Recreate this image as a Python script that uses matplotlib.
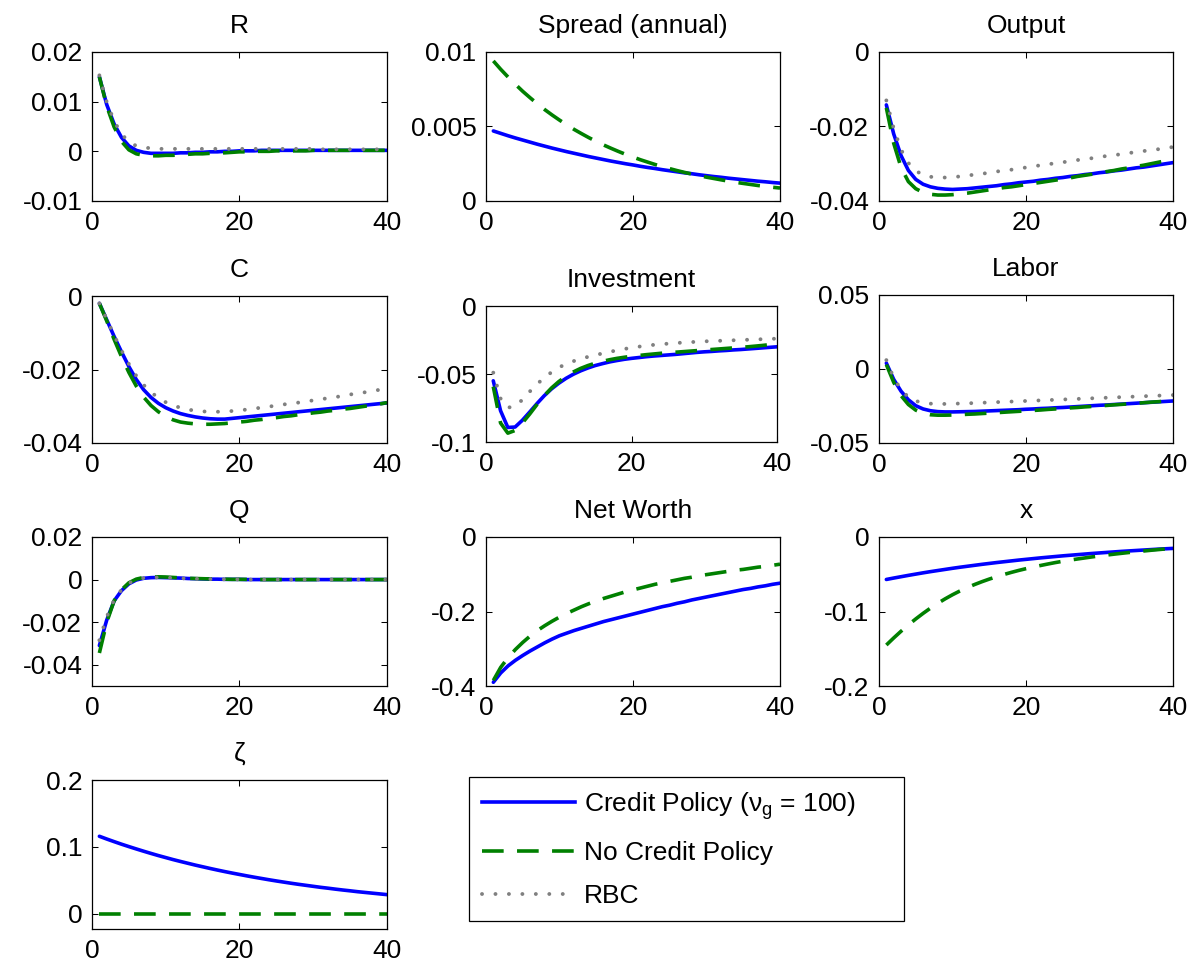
import matplotlib
matplotlib.use('Agg')
import matplotlib.pyplot as plt
from matplotlib.lines import Line2D

plt.rcParams['font.family'] = ['Liberation Sans', 'DejaVu Sans']
plt.rcParams['axes.unicode_minus'] = False
plt.rcParams['mathtext.fontset'] = 'custom'
plt.rcParams['mathtext.rm'] = 'Liberation Sans'
plt.rcParams['mathtext.it'] = 'Liberation Sans'

# ---------------- data ----------------
periods = list(range(1, 41))
series_labels = [r'Credit Policy ($\nu_g$ = 100)', 'No Credit Policy', 'RBC']

R_credit = [0.0150, 0.0094, 0.0055, 0.0028, 0.0011, 0.0002, -0.0002, -0.0004, -0.0004, -0.0004,
            -0.0004, -0.0003, -0.0003, -0.0002, -0.0002, -0.0001, -0.0001, 0.0000, 0.0000, 0.0001,
            0.0001, 0.0001, 0.0002, 0.0002, 0.0002, 0.0002, 0.0002, 0.0002, 0.0002, 0.0002,
            0.0002, 0.0002, 0.0002, 0.0002, 0.0002, 0.0002, 0.0002, 0.0002, 0.0002, 0.0002]
R_none = [0.0150, 0.0091, 0.0049, 0.0020, 0.0003, -0.0005, -0.0008, -0.0009, -0.0009, -0.0008,
          -0.0008, -0.0007, -0.0006, -0.0005, -0.0005, -0.0004, -0.0003, -0.0003, -0.0002, -0.0001,
          -0.0001, 0.0000, 0.0000, 0.0000, 0.0001, 0.0001, 0.0001, 0.0001, 0.0001, 0.0002,
          0.0002, 0.0002, 0.0002, 0.0002, 0.0002, 0.0002, 0.0002, 0.0002, 0.0002, 0.0002]
R_rbc = [0.0153, 0.0099, 0.0061, 0.0035, 0.0019, 0.0011, 0.0008, 0.0006, 0.0005, 0.0005,
         0.0005, 0.0005, 0.0005, 0.0005, 0.0005, 0.0005, 0.0005, 0.0005, 0.0005, 0.0005,
         0.0005, 0.0005, 0.0005, 0.0005, 0.0005, 0.0005, 0.0005, 0.0005, 0.0005, 0.0005,
         0.0004, 0.0004, 0.0004, 0.0004, 0.0004, 0.0004, 0.0004, 0.0004, 0.0004, 0.0004]

Spread_credit = [0.00470, 0.00454, 0.00438, 0.00423, 0.00409, 0.00395, 0.00381, 0.00368, 0.00355, 0.00343,
                 0.00331, 0.00320, 0.00309, 0.00298, 0.00288, 0.00278, 0.00268, 0.00259, 0.00250, 0.00242,
                 0.00233, 0.00225, 0.00218, 0.00210, 0.00203, 0.00196, 0.00189, 0.00183, 0.00176, 0.00170,
                 0.00164, 0.00159, 0.00153, 0.00148, 0.00143, 0.00138, 0.00133, 0.00129, 0.00124, 0.00120]
Spread_none = [0.00940, 0.00884, 0.00832, 0.00783, 0.00736, 0.00693, 0.00652, 0.00613, 0.00577, 0.00543,
               0.00511, 0.00480, 0.00452, 0.00425, 0.00400, 0.00376, 0.00354, 0.00333, 0.00313, 0.00295,
               0.00277, 0.00261, 0.00245, 0.00231, 0.00217, 0.00204, 0.00192, 0.00181, 0.00170, 0.00160,
               0.00151, 0.00142, 0.00133, 0.00125, 0.00118, 0.00111, 0.00104, 0.00098, 0.00092, 0.00087]

Output_credit = [-0.0142, -0.0220, -0.0278, -0.0318, -0.0342, -0.0355, -0.0362, -0.0366, -0.0368, -0.0369,
                 -0.0368, -0.0367, -0.0365, -0.0363, -0.0361, -0.0359, -0.0356, -0.0354, -0.0351, -0.0349,
                 -0.0347, -0.0344, -0.0342, -0.0339, -0.0337, -0.0334, -0.0332, -0.0329, -0.0327, -0.0324,
                 -0.0322, -0.0319, -0.0317, -0.0314, -0.0311, -0.0309, -0.0306, -0.0303, -0.0300, -0.0297]
Output_none = [-0.0150, -0.0245, -0.0310, -0.0348, -0.0367, -0.0377, -0.0382, -0.0384, -0.0384, -0.0383,
               -0.0381, -0.0379, -0.0376, -0.0373, -0.0370, -0.0367, -0.0364, -0.0362, -0.0359, -0.0356,
               -0.0353, -0.0350, -0.0347, -0.0344, -0.0341, -0.0338, -0.0334, -0.0331, -0.0328, -0.0325,
               -0.0321, -0.0318, -0.0314, -0.0311, -0.0307, -0.0304, -0.0300, -0.0296, -0.0292, -0.0288]
Output_rbc = [-0.0130, -0.0205, -0.0262, -0.0298, -0.0319, -0.0330, -0.0335, -0.0337, -0.0337, -0.0336,
              -0.0334, -0.0332, -0.0329, -0.0327, -0.0324, -0.0321, -0.0318, -0.0316, -0.0313, -0.0310,
              -0.0307, -0.0304, -0.0301, -0.0299, -0.0296, -0.0293, -0.0290, -0.0288, -0.0285, -0.0282,
              -0.0279, -0.0277, -0.0274, -0.0271, -0.0269, -0.0266, -0.0263, -0.0261, -0.0258, -0.0255]

C_credit = [-0.0020, -0.0065, -0.0110, -0.0152, -0.0192, -0.0227, -0.0255, -0.0276, -0.0292, -0.0304,
            -0.0313, -0.0320, -0.0325, -0.0329, -0.0332, -0.0334, -0.0335, -0.0335, -0.0333, -0.0331,
            -0.0329, -0.0327, -0.0325, -0.0323, -0.0321, -0.0319, -0.0317, -0.0315, -0.0313, -0.0311,
            -0.0309, -0.0307, -0.0305, -0.0303, -0.0301, -0.0299, -0.0297, -0.0295, -0.0293, -0.0291]
C_none = [-0.0020, -0.0068, -0.0118, -0.0165, -0.0208, -0.0245, -0.0275, -0.0298, -0.0315, -0.0328,
          -0.0337, -0.0343, -0.0346, -0.0348, -0.0349, -0.0349, -0.0348, -0.0347, -0.0345, -0.0343,
          -0.0341, -0.0338, -0.0336, -0.0333, -0.0331, -0.0328, -0.0326, -0.0323, -0.0321, -0.0318,
          -0.0316, -0.0313, -0.0311, -0.0308, -0.0306, -0.0303, -0.0300, -0.0297, -0.0294, -0.0290]
C_rbc = [-0.0020, -0.0063, -0.0107, -0.0148, -0.0185, -0.0217, -0.0242, -0.0262, -0.0277, -0.0289,
         -0.0298, -0.0304, -0.0309, -0.0312, -0.0314, -0.0315, -0.0315, -0.0314, -0.0313, -0.0311,
         -0.0309, -0.0306, -0.0304, -0.0301, -0.0298, -0.0295, -0.0293, -0.0290, -0.0287, -0.0284,
         -0.0281, -0.0278, -0.0275, -0.0272, -0.0268, -0.0265, -0.0262, -0.0259, -0.0255, -0.0252]

Inv_credit = [-0.0550, -0.0770, -0.0893, -0.0890, -0.0840, -0.0780, -0.0718, -0.0660, -0.0610, -0.0568,
              -0.0532, -0.0502, -0.0477, -0.0456, -0.0438, -0.0424, -0.0411, -0.0401, -0.0392, -0.0385,
              -0.0379, -0.0373, -0.0368, -0.0364, -0.0360, -0.0356, -0.0351, -0.0346, -0.0341, -0.0337,
              -0.0334, -0.0330, -0.0327, -0.0323, -0.0320, -0.0316, -0.0312, -0.0308, -0.0304, -0.0300]
Inv_none = [-0.0593, -0.0860, -0.0935, -0.0915, -0.0860, -0.0795, -0.0725, -0.0660, -0.0603, -0.0556,
            -0.0517, -0.0485, -0.0459, -0.0438, -0.0421, -0.0407, -0.0395, -0.0385, -0.0377, -0.0370,
            -0.0364, -0.0358, -0.0353, -0.0348, -0.0344, -0.0340, -0.0336, -0.0332, -0.0328, -0.0324,
            -0.0320, -0.0316, -0.0312, -0.0308, -0.0304, -0.0300, -0.0295, -0.0290, -0.0284, -0.0278]
Inv_rbc = [-0.0490, -0.0680, -0.0748, -0.0735, -0.0690, -0.0630, -0.0575, -0.0528, -0.0487, -0.0452,
           -0.0427, -0.0406, -0.0389, -0.0374, -0.0361, -0.0349, -0.0337, -0.0326, -0.0316, -0.0307,
           -0.0299, -0.0292, -0.0286, -0.0281, -0.0277, -0.0273, -0.0269, -0.0266, -0.0263, -0.0260,
           -0.0258, -0.0256, -0.0254, -0.0252, -0.0250, -0.0248, -0.0246, -0.0244, -0.0242, -0.0240]

Labor_credit = [0.0040, -0.0070, -0.0150, -0.0208, -0.0248, -0.0270, -0.0282, -0.0288, -0.0290, -0.0290,
                -0.0289, -0.0288, -0.0287, -0.0285, -0.0283, -0.0281, -0.0279, -0.0277, -0.0275, -0.0272,
                -0.0270, -0.0267, -0.0265, -0.0262, -0.0260, -0.0257, -0.0254, -0.0251, -0.0248, -0.0245,
                -0.0243, -0.0240, -0.0237, -0.0234, -0.0231, -0.0228, -0.0225, -0.0222, -0.0219, -0.0216]
Labor_none = [0.0030, -0.0090, -0.0180, -0.0240, -0.0278, -0.0299, -0.0309, -0.0312, -0.0312, -0.0311,
              -0.0309, -0.0306, -0.0304, -0.0301, -0.0298, -0.0295, -0.0292, -0.0289, -0.0286, -0.0283,
              -0.0280, -0.0277, -0.0273, -0.0270, -0.0267, -0.0263, -0.0260, -0.0256, -0.0253, -0.0249,
              -0.0246, -0.0242, -0.0239, -0.0235, -0.0232, -0.0228, -0.0224, -0.0221, -0.0217, -0.0213]
Labor_rbc = [0.0060, -0.0060, -0.0140, -0.0190, -0.0216, -0.0229, -0.0234, -0.0236, -0.0236, -0.0235,
             -0.0233, -0.0232, -0.0230, -0.0228, -0.0226, -0.0224, -0.0222, -0.0220, -0.0218, -0.0216,
             -0.0214, -0.0212, -0.0210, -0.0208, -0.0206, -0.0204, -0.0202, -0.0200, -0.0198, -0.0196,
             -0.0194, -0.0192, -0.0190, -0.0188, -0.0186, -0.0184, -0.0182, -0.0180, -0.0178, -0.0176]

Q_credit = [-0.0310, -0.0190, -0.0100, -0.0052, -0.0020, -0.0002, 0.0006, 0.0009, 0.0010, 0.0009,
            0.0008, 0.0007, 0.0005, 0.0004, 0.0003, 0.0002, 0.0002, 0.0001, 0.0001, 0.0001,
            0.0000, 0.0000, 0.0000, 0.0000, 0.0000, 0.0000, 0.0000, 0.0000, 0.0000, 0.0000,
            0.0000, 0.0000, 0.0000, 0.0000, 0.0000, 0.0000, 0.0000, 0.0000, 0.0000, 0.0000]
Q_none = [-0.0345, -0.0200, -0.0100, -0.0048, -0.0015, 0.0002, 0.0010, 0.0013, 0.0013, 0.0012,
          0.0010, 0.0008, 0.0006, 0.0005, 0.0004, 0.0003, 0.0002, 0.0002, 0.0001, 0.0001,
          0.0001, 0.0001, 0.0000, 0.0000, 0.0000, 0.0000, 0.0000, 0.0000, 0.0000, 0.0000,
          0.0000, 0.0000, 0.0000, 0.0000, 0.0000, 0.0000, 0.0000, 0.0000, 0.0000, 0.0000]
Q_rbc = [-0.0285, -0.0175, -0.0095, -0.0048, -0.0017, 0.0000, 0.0007, 0.0010, 0.0010, 0.0009,
         0.0008, 0.0006, 0.0005, 0.0004, 0.0003, 0.0002, 0.0002, 0.0001, 0.0001, 0.0001,
         0.0000, 0.0000, 0.0000, 0.0000, 0.0000, 0.0000, 0.0000, 0.0000, 0.0000, 0.0000,
         0.0000, 0.0000, 0.0000, 0.0000, 0.0000, 0.0000, 0.0000, 0.0000, 0.0000, 0.0000]

NW_credit = [-0.390, -0.365, -0.346, -0.331, -0.318, -0.306, -0.295, -0.284, -0.274, -0.265,
             -0.258, -0.251, -0.245, -0.239, -0.233, -0.227, -0.222, -0.217, -0.212, -0.207,
             -0.202, -0.197, -0.192, -0.187, -0.183, -0.178, -0.174, -0.169, -0.165, -0.161,
             -0.157, -0.153, -0.149, -0.145, -0.141, -0.138, -0.134, -0.131, -0.127, -0.124]
NW_none = [-0.385, -0.350, -0.324, -0.302, -0.283, -0.266, -0.251, -0.238, -0.226, -0.215,
           -0.205, -0.196, -0.187, -0.179, -0.172, -0.165, -0.159, -0.153, -0.147, -0.142,
           -0.137, -0.132, -0.127, -0.123, -0.119, -0.115, -0.111, -0.108, -0.104, -0.101,
           -0.098, -0.095, -0.092, -0.089, -0.087, -0.084, -0.081, -0.079, -0.076, -0.073]

x_credit = [-0.0570, -0.0551, -0.0533, -0.0515, -0.0498, -0.0481, -0.0465, -0.0450, -0.0435, -0.0420,
            -0.0406, -0.0393, -0.0380, -0.0367, -0.0355, -0.0343, -0.0332, -0.0321, -0.0310, -0.0300,
            -0.0290, -0.0280, -0.0271, -0.0262, -0.0253, -0.0245, -0.0237, -0.0229, -0.0221, -0.0214,
            -0.0207, -0.0200, -0.0193, -0.0187, -0.0181, -0.0175, -0.0169, -0.0163, -0.0158, -0.0153]
x_none = [-0.1450, -0.1355, -0.1265, -0.1180, -0.1100, -0.1025, -0.0955, -0.0890, -0.0830, -0.0775,
          -0.0725, -0.0680, -0.0638, -0.0600, -0.0565, -0.0533, -0.0503, -0.0475, -0.0449, -0.0425,
          -0.0403, -0.0382, -0.0362, -0.0343, -0.0326, -0.0310, -0.0295, -0.0281, -0.0267, -0.0254,
          -0.0242, -0.0230, -0.0219, -0.0208, -0.0198, -0.0188, -0.0178, -0.0169, -0.0160, -0.0152]

zeta_credit = [0.1160, 0.1119, 0.1080, 0.1042, 0.1006, 0.0971, 0.0937, 0.0904, 0.0872, 0.0842,
               0.0812, 0.0784, 0.0757, 0.0730, 0.0705, 0.0680, 0.0656, 0.0633, 0.0611, 0.0590,
               0.0569, 0.0549, 0.0530, 0.0511, 0.0493, 0.0476, 0.0459, 0.0443, 0.0428, 0.0413,
               0.0398, 0.0385, 0.0371, 0.0358, 0.0346, 0.0333, 0.0322, 0.0311, 0.0300, 0.0289]
zeta_none = [0.0] * 40

titles = ['R', 'Spread (annual)', 'Output', 'C', 'Investment', 'Labor', 'Q', 'Net Worth', 'x', 'ζ']
panel_series = [
    (R_credit, R_none, R_rbc),
    (Spread_credit, Spread_none, None),
    (Output_credit, Output_none, Output_rbc),
    (C_credit, C_none, C_rbc),
    (Inv_credit, Inv_none, Inv_rbc),
    (Labor_credit, Labor_none, Labor_rbc),
    (Q_credit, Q_none, Q_rbc),
    (NW_credit, NW_none, None),
    (x_credit, x_none, None),
    (zeta_credit, zeta_none, None),
]
ylims = [(-0.01, 0.02), (0, 0.01), (-0.04, 0), (-0.04, 0), (-0.1, 0), (-0.05, 0.05),
         (-0.05, 0.02), (-0.4, 0), (-0.2, 0), (-0.0224, 0.2)]
yticks = [[-0.01, 0, 0.01, 0.02], [0, 0.005, 0.01], [-0.04, -0.02, 0], [-0.04, -0.02, 0],
          [-0.1, -0.05, 0], [-0.05, 0, 0.05], [-0.04, -0.02, 0, 0.02], [-0.4, -0.2, 0],
          [-0.2, -0.1, 0], [0, 0.1, 0.2]]
ytick_labels = [['-0.01', '0', '0.01', '0.02'], ['0', '0.005', '0.01'], ['-0.04', '-0.02', '0'],
                ['-0.04', '-0.02', '0'], ['-0.1', '-0.05', '0'], ['-0.05', '0', '0.05'],
                ['-0.04', '-0.02', '0', '0.02'], ['-0.4', '-0.2', '0'], ['-0.2', '-0.1', '0'],
                ['0', '0.1', '0.2']]
xticks = [0, 20, 40]
xtick_labels = ['0', '20', '40']

# ---------------- layout (pixel boxes: left, top, right, bottom) ----------------
W, H = 1204, 968
boxes = [(92, 52, 387, 201), (486, 52, 780, 201), (879, 52, 1173, 201),
         (92, 296, 387, 443), (486, 306, 777, 442), (879, 295, 1173, 443),
         (92, 537, 387, 686), (486, 537, 780, 686), (879, 537, 1173, 686),
         (92, 780, 387, 929)]

FS = 19
LW = 2.6
blue = (0, 0, 1)
green = (0, 0.5, 0)
gray = (0.5, 0.5, 0.5)
dash_style = (0, (6, 3.7))
dot_style = (0, (0.01, 3.45))
DOT_LW = 2.8

fig = plt.figure(figsize=(W / 100, H / 100), dpi=100)

for i, (l, t, r, b) in enumerate(boxes):
    ax = fig.add_axes([l / W, 1 - b / H, (r - l) / W, (b - t) / H])
    s_credit, s_none, s_rbc = panel_series[i]
    ax.plot(periods, s_credit, color=blue, lw=LW, solid_capstyle='round')
    ax.plot(periods, s_none, color=green, lw=LW, linestyle=dash_style)
    if s_rbc is not None:
        ax.plot(periods, s_rbc, color=gray, lw=DOT_LW, linestyle=dot_style, dash_capstyle='round')
    ax.set_xlim(0, 40)
    ax.set_ylim(*ylims[i])
    ax.set_xticks(xticks)
    ax.set_xticklabels(xtick_labels)
    ax.set_yticks(yticks[i])
    ax.set_yticklabels(ytick_labels[i])
    ax.tick_params(direction='in', top=True, right=True, length=4, width=0.75,
                   labelsize=FS, colors='black')
    ax.tick_params(axis='y', pad=7.0)
    ax.tick_params(axis='x', pad=7.5)
    for sp in ax.spines.values():
        sp.set_linewidth(0.9)
        sp.set_color('black')
    ax.set_title(titles[i], fontsize=FS, pad=14.0)

handles = [Line2D([], [], color=blue, lw=LW),
           Line2D([], [], color=green, lw=LW, linestyle=dash_style),
           Line2D([], [], color=gray, lw=DOT_LW, linestyle=dot_style, dash_capstyle='round')]
leg = fig.legend(handles, series_labels, loc='upper left',
                 bbox_to_anchor=(469 / W, 1 - 917 / H, (904 - 469) / W, (917 - 777) / H),
                 mode='expand', borderaxespad=0, fontsize=FS, frameon=True, fancybox=False,
                 edgecolor='black', framealpha=1, handlelength=3.5, handletextpad=0.35,
                 borderpad=0.5, labelspacing=0.72)
leg.get_frame().set_linewidth(0.9)

fig.savefig('out.png', dpi=100)
